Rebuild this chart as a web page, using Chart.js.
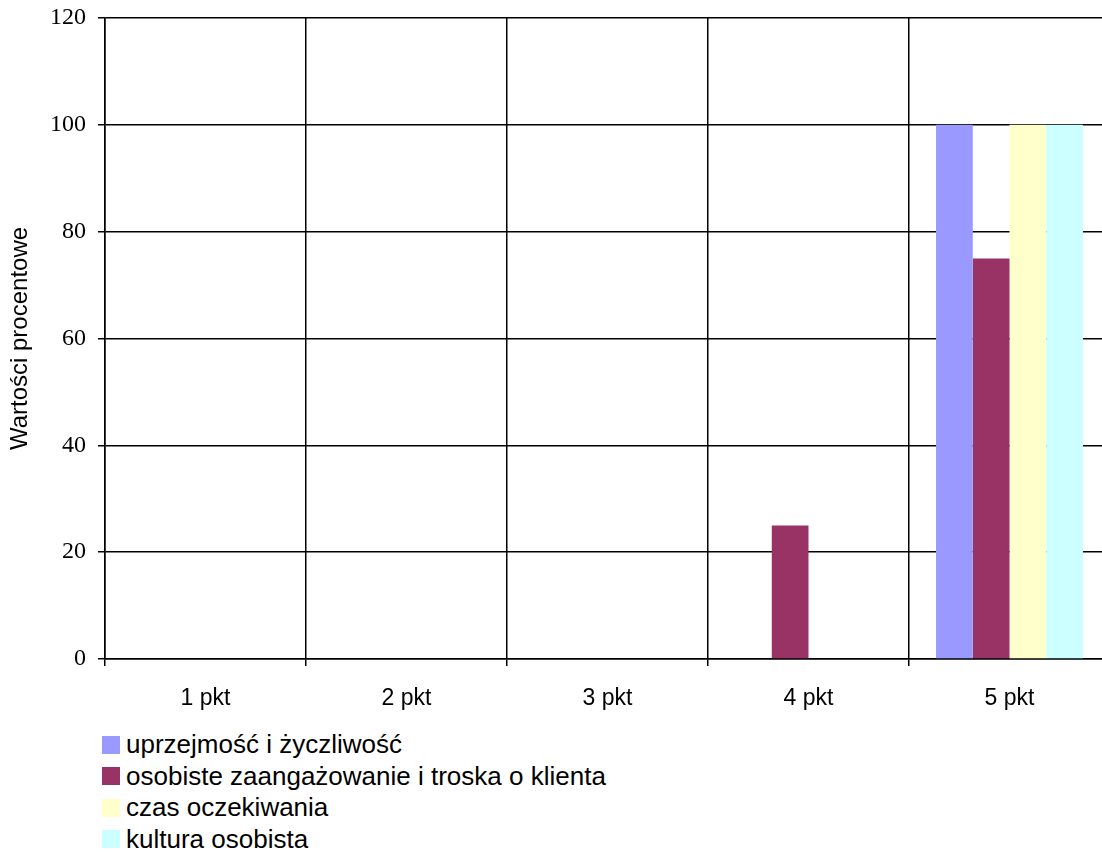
<!DOCTYPE html>
<html>
<head>
<meta charset="utf-8">
<script src="https://cdn.jsdelivr.net/npm/chart.js@4/dist/chart.umd.min.js"></script>
<style>
    html, body { margin: 0; padding: 0; background: #fff; width: 1102px; height: 853px; overflow: hidden; }
    #wrap { position: relative; width: 1112px; height: 720px; }
    #legend { position: absolute; left: 102px; top: 729px; font-family: "Liberation Sans", Arial, sans-serif; font-size: 26px; color: #000; }
    .item { display: flex; align-items: center; height: 31.5px; }
    .box { width: 18px; height: 18px; margin-right: 6px; }
</style>
</head>
<body>
<div id="wrap"><canvas id="chart" width="1112" height="720"></canvas></div>
<div id="legend"></div>
<script>
// dane
const categories = ['1 pkt', '2 pkt', '3 pkt', '4 pkt', '5 pkt'];
const seriesNames = [
    'uprzejmość i życzliwość',
    'osobiste zaangażowanie i troska o klienta',
    'czas oczekiwania',
    'kultura osobista'
];
const uprzejmosc = [0, 0, 0, 0, 100];
const zaangazowanie = [0, 0, 0, 25, 75];
const czasOczekiwania = [0, 0, 0, 0, 100];
const kulturaOsobista = [0, 0, 0, 0, 100];
const seriesColors = ['#9999FF', '#993366', '#FFFFCC', '#CCFFFF'];
const yMin = 0, yMax = 120, yStep = 20;

const seriesValues = [uprzejmosc, zaangazowanie, czasOczekiwania, kulturaOsobista];

const datasets = seriesNames.map((name, i) => ({
    label: name,
    data: seriesValues[i],
    backgroundColor: seriesColors[i],
    borderWidth: 0,
    categoryPercentage: 0.731,
    barPercentage: 1.0
}));

const sansFamily = '"Liberation Sans", Arial, sans-serif';

new Chart(document.getElementById('chart'), {
    type: 'bar',
    data: { labels: categories, datasets },
    options: {
        responsive: false,
        animation: false,
        layout: { padding: { top: 18, right: 2, left: 0, bottom: 0 } },
        plugins: {
            legend: { display: false },
            tooltip: { enabled: false }
        },
        scales: {
            x: {
                grid: { color: '#000', lineWidth: 1.5, tickLength: 7, offset: true },
                border: { color: '#000', width: 1.5 },
                ticks: { color: '#000', font: { family: sansFamily, size: 23 }, padding: 19, maxRotation: 0 },
                afterFit(scale) { scale.height = 61; }
            },
            y: {
                min: yMin,
                max: yMax,
                grid: { color: '#000', lineWidth: 1.5, tickLength: 7 },
                border: { color: '#000', width: 1.5 },
                ticks: {
                    stepSize: yStep,
                    color: '#000',
                    padding: 12,
                    font: { family: '"Liberation Serif", "Times New Roman", serif', size: 24 }
                },
                title: {
                    display: true,
                    text: 'Wartości procentowe',
                    color: '#000',
                    font: { family: sansFamily, size: 24 },
                    padding: { top: 6, bottom: 0 }
                },
                afterFit(scale) {
                    scale.width = 105;
                    scale.paddingTop = 0;
                    scale.paddingBottom = 0;
                }
            }
        }
    }
});

// legenda pionowa pod wykresem
const legend = document.getElementById('legend');
seriesNames.forEach((name, i) => {
    const item = document.createElement('div');
    item.className = 'item';
    const box = document.createElement('span');
    box.className = 'box';
    box.style.background = seriesColors[i];
    const text = document.createElement('span');
    text.textContent = name;
    item.appendChild(box);
    item.appendChild(text);
    legend.appendChild(item);
});
</script>
</body>
</html>
